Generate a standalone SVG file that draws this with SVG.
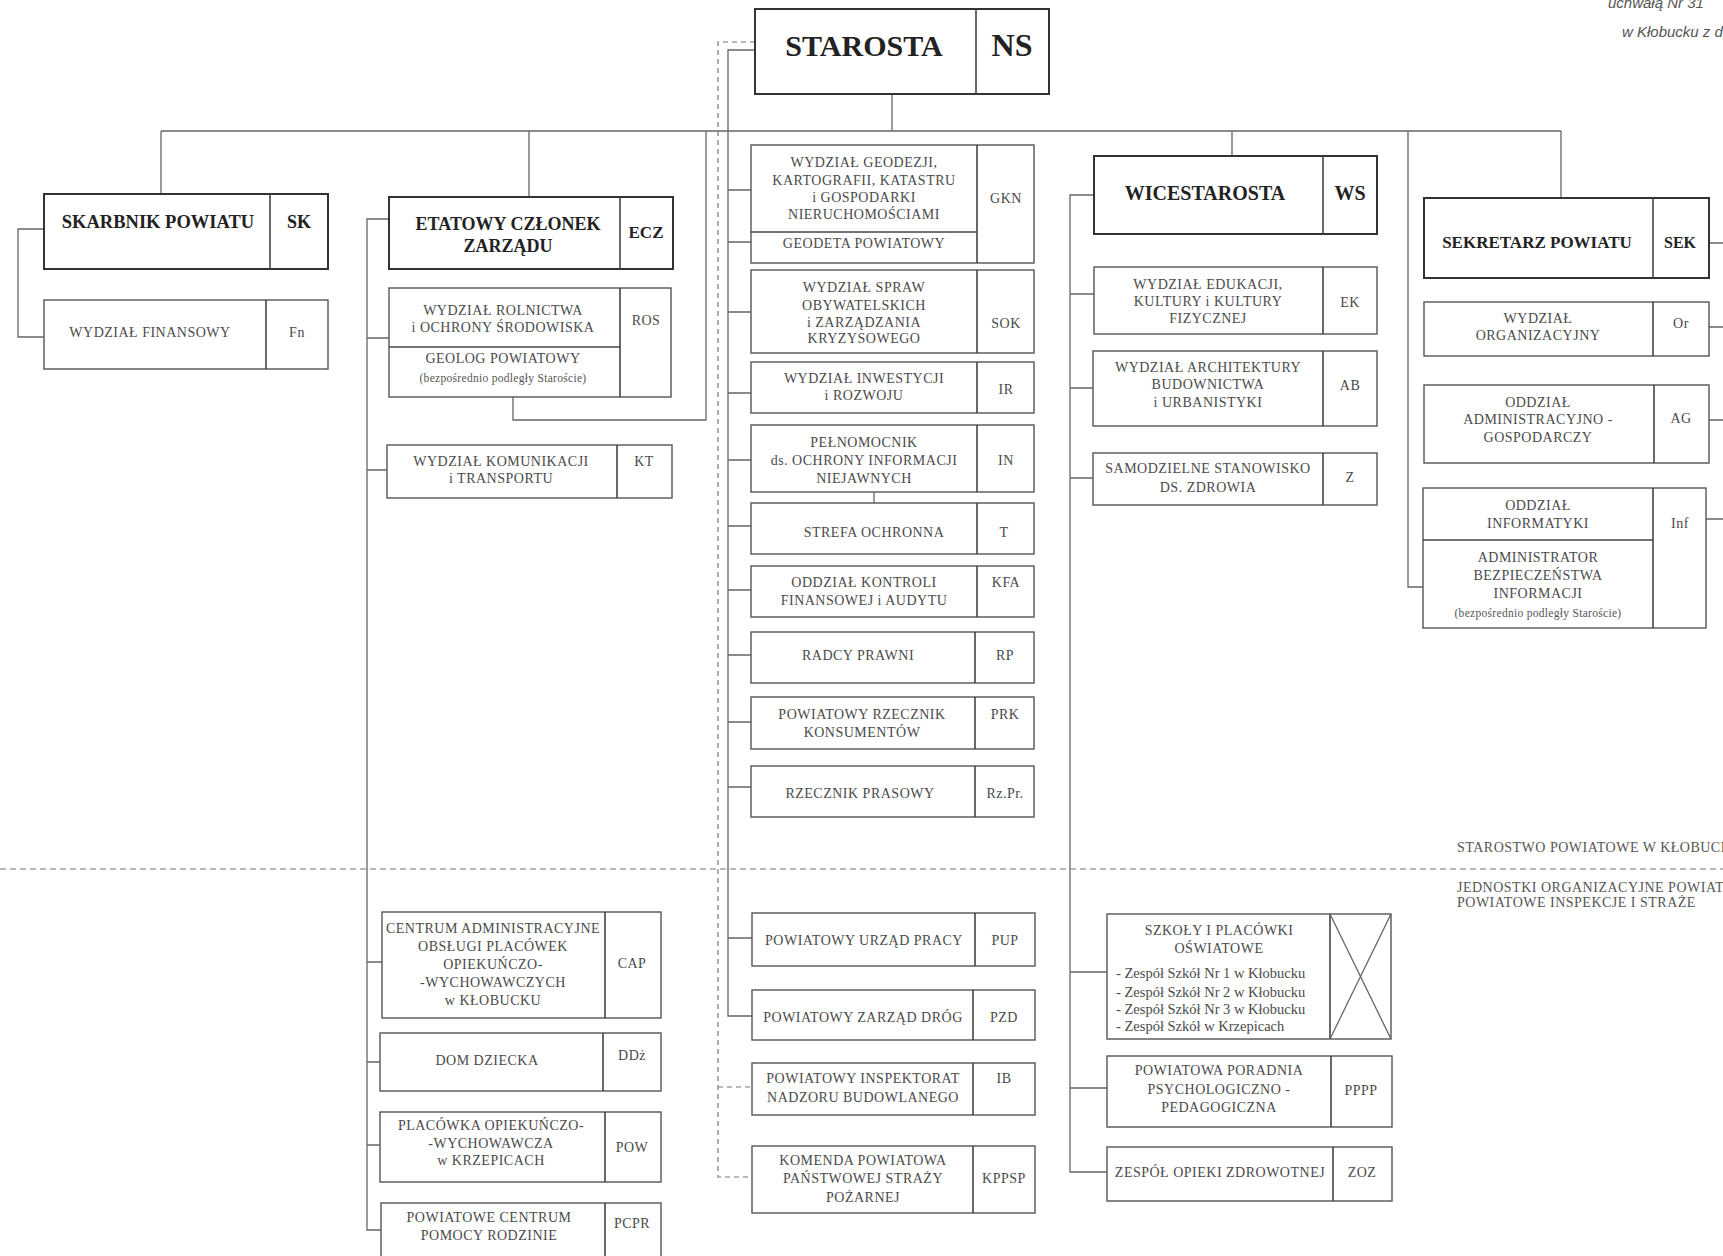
<svg xmlns="http://www.w3.org/2000/svg" width="1723" height="1256" viewBox="0 0 1723 1256">
<style>
.bg{fill:#fff}
.box{fill:#fff;stroke:#555;stroke-width:1.4}
.hbox{fill:#fff;stroke:#333;stroke-width:2}
.div{stroke:#444;stroke-width:1.6;fill:none}
.ln{stroke:#666;stroke-width:1.3;fill:none}
.dash{stroke:#777;stroke-width:1.2;fill:none;stroke-dasharray:5 4}
.t{font-family:"Liberation Serif","DejaVu Serif",serif;font-size:14px;fill:#4a4a4a;text-anchor:middle;letter-spacing:0.5px}
.s{font-family:"Liberation Serif","DejaVu Serif",serif;font-size:11.5px;fill:#555;text-anchor:middle;letter-spacing:0.3px}
.l{font-family:"Liberation Serif","DejaVu Serif",serif;font-size:14.5px;fill:#4a4a4a}
.h{font-family:"Liberation Serif","DejaVu Serif",serif;font-weight:bold;fill:#222;text-anchor:middle}
.n{font-family:"Liberation Serif","DejaVu Serif",serif;font-size:14px;fill:#555;letter-spacing:0.5px}
.it{font-family:"Liberation Sans",Arial,sans-serif;font-style:italic;font-size:15px;fill:#555}
</style>
<rect class="bg" x="0" y="0" width="1723" height="1256"/>

<g id="note">
<text class="it" x="1608" y="8">uchwałą Nr 31</text>
<text class="it" x="1622" y="37">w Kłobucku z d</text>
</g>

<g id="connectors">
<!-- main bus -->
<path class="ln" d="M892 94V131M161 131H1561M161 131V194M529 131V197M1232 131V156M1561 131V198"/>
<!-- skarbnik bracket -->
<path class="ln" d="M44 229H18V337H44"/>
<!-- etatowy bracket -->
<path class="ln" d="M389 219H367V1230H381M367 338H389M367 470H387M367 962H382M367 1062H380M367 1145H380"/>
<!-- geolog direct -->
<path class="ln" d="M513 397V420H706V131"/>
<!-- starosta solid bracket -->
<path class="ln" d="M755 50H728V1016H752M728 190H751M728 242H751M728 312H751M728 393H751M728 460H751M728 526H751M728 590H751M728 655H751M728 722H751M728 787H751M728 938H752"/>
<!-- small link IN - STREFA -->
<path class="ln" d="M874 492V503"/>
<!-- starosta dashed bracket -->
<path class="dash" d="M755 42H718V1177H752M718 1087H752"/>
<!-- wicestarosta bracket -->
<path class="ln" d="M1094 195H1070V1172H1107M1070 294H1094M1070 388H1093M1070 478H1093M1070 972H1107M1070 1088H1107"/>
<!-- administrator direct -->
<path class="ln" d="M1408 131V587H1423"/>
<!-- sekretarz right stubs -->
<path class="ln" d="M1709 243H1723M1709 327H1723M1709 420H1723M1706 519H1723"/>
<!-- section divider -->
<path class="dash" d="M0 869H1723" style="stroke-dasharray:6 4"/>
</g>

<g id="section-labels">
<text class="n" x="1457" y="852">STAROSTWO POWIATOWE W  KŁOBUCKU</text>
<text class="n" x="1457" y="892">JEDNOSTKI ORGANIZACYJNE POWIATU</text>
<text class="n" x="1457" y="907">POWIATOWE INSPEKCJE I STRAŻE</text>
</g>

<g id="starosta">
<rect class="hbox" x="755" y="9" width="294" height="85"/>
<line class="div" x1="976" y1="9" x2="976" y2="94"/>
<text class="h" x="864" y="56" font-size="30">STAROSTA</text>
<text class="h" x="1012" y="56" font-size="32">NS</text>
</g>

<g id="skarbnik">
<rect class="hbox" x="44" y="194" width="284" height="75"/>
<line class="div" x1="270" y1="194" x2="270" y2="269"/>
<text class="h" x="158" y="228" font-size="18.5">SKARBNIK POWIATU</text>
<text class="h" x="299" y="228" font-size="18">SK</text>
</g>

<g id="fn">
<rect class="box" x="44" y="300" width="284" height="69"/>
<line class="div" x1="266" y1="300" x2="266" y2="369"/>
<text class="t" x="150" y="337">WYDZIAŁ FINANSOWY</text>
<text class="t" x="297" y="337">Fn</text>
</g>

<g id="ecz">
<rect class="hbox" x="389" y="197" width="284" height="72"/>
<line class="div" x1="620" y1="197" x2="620" y2="269"/>
<text class="h" x="508" y="230" font-size="18">ETATOWY CZŁONEK</text>
<text class="h" x="508" y="252" font-size="18">ZARZĄDU</text>
<text class="h" x="646" y="238" font-size="17">ECZ</text>
</g>

<g id="ros">
<rect class="box" x="389" y="288" width="282" height="109"/>
<line class="div" x1="620" y1="288" x2="620" y2="397"/>
<line class="div" x1="389" y1="347" x2="620" y2="347"/>
<text class="t" x="503" y="315">WYDZIAŁ ROLNICTWA</text>
<text class="t" x="503" y="332">i OCHRONY ŚRODOWISKA</text>
<text class="t" x="503" y="363">GEOLOG POWIATOWY</text>
<text class="s" x="503" y="382">(bezpośrednio podległy Staroście)</text>
<text class="t" x="646" y="325">ROS</text>
</g>

<g id="kt">
<rect class="box" x="387" y="445" width="285" height="53"/>
<line class="div" x1="617" y1="445" x2="617" y2="498"/>
<text class="t" x="501" y="466">WYDZIAŁ KOMUNIKACJI</text>
<text class="t" x="501" y="483">i TRANSPORTU</text>
<text class="t" x="644" y="466">KT</text>
</g>

<g id="cap">
<rect class="box" x="382" y="912" width="279" height="106"/>
<line class="div" x1="605" y1="912" x2="605" y2="1018"/>
<text class="t" x="493" y="933">CENTRUM ADMINISTRACYJNE</text>
<text class="t" x="493" y="951">OBSŁUGI PLACÓWEK</text>
<text class="t" x="493" y="969">OPIEKUŃCZO-</text>
<text class="t" x="493" y="987">-WYCHOWAWCZYCH</text>
<text class="t" x="493" y="1005">w KŁOBUCKU</text>
<text class="t" x="632" y="968">CAP</text>
</g>

<g id="ddz">
<rect class="box" x="380" y="1033" width="281" height="58"/>
<line class="div" x1="603" y1="1033" x2="603" y2="1091"/>
<text class="t" x="487" y="1065">DOM DZIECKA</text>
<text class="t" x="632" y="1060">DDż</text>
</g>

<g id="pow">
<rect class="box" x="380" y="1112" width="281" height="70"/>
<line class="div" x1="605" y1="1112" x2="605" y2="1182"/>
<text class="t" x="491" y="1130">PLACÓWKA OPIEKUŃCZO-</text>
<text class="t" x="491" y="1148">-WYCHOWAWCZA</text>
<text class="t" x="491" y="1165">w KRZEPICACH</text>
<text class="t" x="632" y="1152">POW</text>
</g>

<g id="pcpr">
<rect class="box" x="381" y="1203" width="280" height="62"/>
<line class="div" x1="605" y1="1203" x2="605" y2="1265"/>
<text class="t" x="489" y="1222">POWIATOWE CENTRUM</text>
<text class="t" x="489" y="1240">POMOCY RODZINIE</text>
<text class="t" x="632" y="1228">PCPR</text>
</g>

<g id="gkn">
<rect class="box" x="751" y="145" width="283" height="118"/>
<line class="div" x1="977" y1="145" x2="977" y2="263"/>
<line class="div" x1="751" y1="232" x2="977" y2="232"/>
<text class="t" x="864" y="167">WYDZIAŁ GEODEZJI,</text>
<text class="t" x="864" y="185">KARTOGRAFII, KATASTRU</text>
<text class="t" x="864" y="202">i GOSPODARKI</text>
<text class="t" x="864" y="219">NIERUCHOMOŚCIAMI</text>
<text class="t" x="864" y="248">GEODETA POWIATOWY</text>
<text class="t" x="1006" y="203">GKN</text>
</g>

<g id="sok">
<rect class="box" x="751" y="270" width="283" height="83"/>
<line class="div" x1="977" y1="270" x2="977" y2="353"/>
<text class="t" x="864" y="292">WYDZIAŁ SPRAW</text>
<text class="t" x="864" y="310">OBYWATELSKICH</text>
<text class="t" x="864" y="327">i ZARZĄDZANIA</text>
<text class="t" x="864" y="343">KRYZYSOWEGO</text>
<text class="t" x="1006" y="328">SOK</text>
</g>

<g id="ir">
<rect class="box" x="751" y="362" width="283" height="51"/>
<line class="div" x1="977" y1="362" x2="977" y2="413"/>
<text class="t" x="864" y="383">WYDZIAŁ INWESTYCJI</text>
<text class="t" x="864" y="400">i ROZWOJU</text>
<text class="t" x="1006" y="394">IR</text>
</g>

<g id="in">
<rect class="box" x="751" y="425" width="283" height="67"/>
<line class="div" x1="977" y1="425" x2="977" y2="492"/>
<text class="t" x="864" y="447">PEŁNOMOCNIK</text>
<text class="t" x="864" y="465">ds. OCHRONY INFORMACJI</text>
<text class="t" x="864" y="483">NIEJAWNYCH</text>
<text class="t" x="1006" y="465">IN</text>
</g>

<g id="t">
<rect class="box" x="751" y="503" width="283" height="51"/>
<line class="div" x1="977" y1="503" x2="977" y2="554"/>
<text class="t" x="874" y="537">STREFA OCHRONNA</text>
<text class="t" x="1004" y="537">T</text>
</g>

<g id="kfa">
<rect class="box" x="751" y="566" width="283" height="51"/>
<line class="div" x1="977" y1="566" x2="977" y2="617"/>
<text class="t" x="864" y="587">ODDZIAŁ KONTROLI</text>
<text class="t" x="864" y="605">FINANSOWEJ i AUDYTU</text>
<text class="t" x="1006" y="587">KFA</text>
</g>

<g id="rp">
<rect class="box" x="751" y="632" width="283" height="51"/>
<line class="div" x1="975" y1="632" x2="975" y2="683"/>
<text class="t" x="858" y="660">RADCY PRAWNI</text>
<text class="t" x="1005" y="660">RP</text>
</g>

<g id="prk">
<rect class="box" x="751" y="697" width="283" height="52"/>
<line class="div" x1="975" y1="697" x2="975" y2="749"/>
<text class="t" x="862" y="719">POWIATOWY RZECZNIK</text>
<text class="t" x="862" y="737">KONSUMENTÓW</text>
<text class="t" x="1005" y="719">PRK</text>
</g>

<g id="rzpr">
<rect class="box" x="751" y="766" width="283" height="51"/>
<line class="div" x1="975" y1="766" x2="975" y2="817"/>
<text class="t" x="860" y="798">RZECZNIK PRASOWY</text>
<text class="t" x="1005" y="798">Rz.Pr.</text>
</g>

<g id="pup">
<rect class="box" x="752" y="913" width="283" height="53"/>
<line class="div" x1="975" y1="913" x2="975" y2="966"/>
<text class="t" x="864" y="945">POWIATOWY URZĄD PRACY</text>
<text class="t" x="1005" y="945">PUP</text>
</g>

<g id="pzd">
<rect class="box" x="752" y="990" width="283" height="50"/>
<line class="div" x1="973" y1="990" x2="973" y2="1040"/>
<text class="t" x="863" y="1022">POWIATOWY ZARZĄD DRÓG</text>
<text class="t" x="1004" y="1022">PZD</text>
</g>

<g id="ib">
<rect class="box" x="752" y="1063" width="283" height="52"/>
<line class="div" x1="973" y1="1063" x2="973" y2="1115"/>
<text class="t" x="863" y="1083">POWIATOWY INSPEKTORAT</text>
<text class="t" x="863" y="1102">NADZORU BUDOWLANEGO</text>
<text class="t" x="1004" y="1083">IB</text>
</g>

<g id="kppsp">
<rect class="box" x="752" y="1146" width="283" height="67"/>
<line class="div" x1="973" y1="1146" x2="973" y2="1213"/>
<text class="t" x="863" y="1165">KOMENDA POWIATOWA</text>
<text class="t" x="863" y="1183">PAŃSTWOWEJ STRAŻY</text>
<text class="t" x="863" y="1202">POŻARNEJ</text>
<text class="t" x="1004" y="1183">KPPSP</text>
</g>

<g id="ws">
<rect class="hbox" x="1094" y="156" width="283" height="78"/>
<line class="div" x1="1323" y1="156" x2="1323" y2="234"/>
<text class="h" x="1205" y="200" font-size="20">WICESTAROSTA</text>
<text class="h" x="1350" y="200" font-size="20">WS</text>
</g>

<g id="ek">
<rect class="box" x="1094" y="267" width="283" height="67"/>
<line class="div" x1="1323" y1="267" x2="1323" y2="334"/>
<text class="t" x="1208" y="289">WYDZIAŁ EDUKACJI,</text>
<text class="t" x="1208" y="306">KULTURY i KULTURY</text>
<text class="t" x="1208" y="323">FIZYCZNEJ</text>
<text class="t" x="1350" y="307">EK</text>
</g>

<g id="ab">
<rect class="box" x="1093" y="351" width="284" height="75"/>
<line class="div" x1="1323" y1="351" x2="1323" y2="426"/>
<text class="t" x="1208" y="372">WYDZIAŁ ARCHITEKTURY</text>
<text class="t" x="1208" y="389">BUDOWNICTWA</text>
<text class="t" x="1208" y="407">i URBANISTYKI</text>
<text class="t" x="1350" y="390">AB</text>
</g>

<g id="z">
<rect class="box" x="1093" y="453" width="284" height="52"/>
<line class="div" x1="1323" y1="453" x2="1323" y2="505"/>
<text class="t" x="1208" y="473">SAMODZIELNE STANOWISKO</text>
<text class="t" x="1208" y="492">DS. ZDROWIA</text>
<text class="t" x="1350" y="482">Z</text>
</g>

<g id="szkoly">
<rect class="box" x="1107" y="914" width="284" height="125"/>
<line class="div" x1="1330" y1="914" x2="1330" y2="1039"/>
<path class="ln" d="M1330 914L1391 1039M1391 914L1330 1039"/>
<text class="t" x="1219" y="935">SZKOŁY I PLACÓWKI</text>
<text class="t" x="1219" y="953">OŚWIATOWE</text>
<text class="l" x="1116" y="978">- Zespół Szkół Nr 1 w Kłobucku</text>
<text class="l" x="1116" y="997">- Zespół Szkół Nr 2 w Kłobucku</text>
<text class="l" x="1116" y="1014">- Zespół Szkół Nr 3 w Kłobucku</text>
<text class="l" x="1116" y="1031">- Zespół Szkół w Krzepicach</text>
</g>

<g id="pppp">
<rect class="box" x="1107" y="1056" width="285" height="71"/>
<line class="div" x1="1331" y1="1056" x2="1331" y2="1127"/>
<text class="t" x="1219" y="1075">POWIATOWA PORADNIA</text>
<text class="t" x="1219" y="1094">PSYCHOLOGICZNO -</text>
<text class="t" x="1219" y="1112">PEDAGOGICZNA</text>
<text class="t" x="1361" y="1095">PPPP</text>
</g>

<g id="zoz">
<rect class="box" x="1107" y="1147" width="285" height="54"/>
<line class="div" x1="1333" y1="1147" x2="1333" y2="1201"/>
<text class="t" x="1220" y="1177">ZESPÓŁ OPIEKI ZDROWOTNEJ</text>
<text class="t" x="1362" y="1177">ZOZ</text>
</g>

<g id="sek">
<rect class="hbox" x="1424" y="198" width="285" height="80"/>
<line class="div" x1="1653" y1="198" x2="1653" y2="278"/>
<text class="h" x="1537" y="248" font-size="17">SEKRETARZ POWIATU</text>
<text class="h" x="1680" y="248" font-size="16">SEK</text>
</g>

<g id="or">
<rect class="box" x="1424" y="302" width="285" height="54"/>
<line class="div" x1="1653" y1="302" x2="1653" y2="356"/>
<text class="t" x="1538" y="323">WYDZIAŁ</text>
<text class="t" x="1538" y="340">ORGANIZACYJNY</text>
<text class="t" x="1681" y="328">Or</text>
</g>

<g id="ag">
<rect class="box" x="1424" y="385" width="285" height="78"/>
<line class="div" x1="1654" y1="385" x2="1654" y2="463"/>
<text class="t" x="1538" y="407">ODDZIAŁ</text>
<text class="t" x="1538" y="424">ADMINISTRACYJNO -</text>
<text class="t" x="1538" y="442">GOSPODARCZY</text>
<text class="t" x="1681" y="423">AG</text>
</g>

<g id="inf">
<rect class="box" x="1423" y="488" width="283" height="140"/>
<line class="div" x1="1653" y1="488" x2="1653" y2="628"/>
<line class="div" x1="1423" y1="540" x2="1653" y2="540"/>
<text class="t" x="1538" y="510">ODDZIAŁ</text>
<text class="t" x="1538" y="528">INFORMATYKI</text>
<text class="t" x="1538" y="562">ADMINISTRATOR</text>
<text class="t" x="1538" y="580">BEZPIECZEŃSTWA</text>
<text class="t" x="1538" y="598">INFORMACJI</text>
<text class="s" x="1538" y="617">(bezpośrednio podległy Staroście)</text>
<text class="t" x="1680" y="528">Inf</text>
</g>
</svg>
